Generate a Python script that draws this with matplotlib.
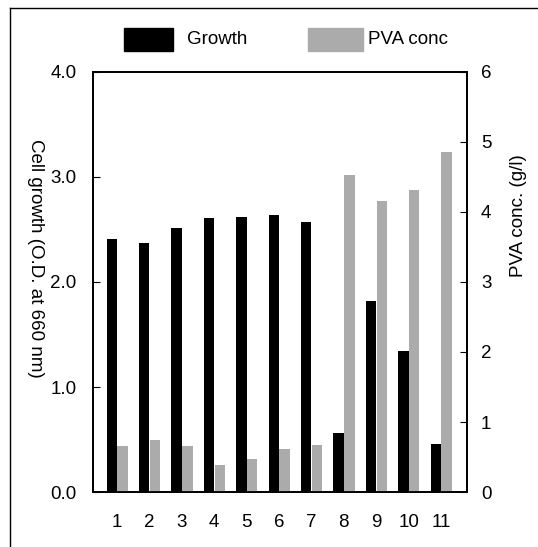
import matplotlib.pyplot as plt
import matplotlib.patches as mpatches
import numpy as np

plt.rcParams['font.family'] = ['Liberation Sans', 'DejaVu Sans']

samples = ['1', '2', '3', '4', '5', '6', '7', '8', '9', '10', '11']
growth = [2.41, 2.37, 2.51, 2.61, 2.62, 2.64, 2.57, 0.56, 1.82, 1.34, 0.46]
pva = [0.66, 0.75, 0.66, 0.39, 0.47, 0.61, 0.67, 4.53, 4.15, 4.31, 4.85]

x = np.arange(1, len(samples) + 1)
w = 0.32
gray = '#ababab'
fs = 13.5
W, H = 538, 547

fig = plt.figure(figsize=(5.38, 5.47), dpi=100)
ax = fig.add_axes([0.173, 0.1005, 0.695, 0.768])
ax2 = ax.twinx()

ax.bar(x - w / 2, growth, width=w, color='black')
ax2.bar(x + w / 2 + 0.01, pva, width=w, color=gray)

ax.set_xlim(0.26, 11.8)
ax.set_ylim(0, 4.0)
ax2.set_ylim(0, 6)
ax.set_yticks([0, 1, 2, 3, 4])
ax.set_yticklabels(['0.0', '1.0', '2.0', '3.0', '4.0'])
ax2.set_yticks(range(7))
ax.set_xticks(x)
ax.set_xticklabels(samples)

ax.tick_params(axis='y', direction='in', length=5, pad=12, labelsize=fs)
ax2.tick_params(axis='y', direction='in', length=5, pad=10, labelsize=fs)
ax.tick_params(axis='x', length=0, pad=16, labelsize=fs)

for a in (ax, ax2):
    for s in a.spines.values():
        s.set_linewidth(1.3)

ax.set_ylabel('Cell growth (O.D. at 660 nm)', rotation=270, fontsize=fs, va='center')
ax.yaxis.set_label_coords(-0.155, 0.557)
ax2.set_ylabel('PVA conc. (g/l)', rotation=90, fontsize=fs, va='center')
ax2.yaxis.set_label_coords(1.139, 0.657)

# legend drawn by hand, at the top of the figure
fig.add_artist(mpatches.Rectangle((124 / W, 1 - 51 / H), 49 / W, 23 / H,
                                  color='black', transform=fig.transFigure))
fig.text(187 / W, 1 - 39 / H, 'Growth', fontsize=fs, va='center')
fig.add_artist(mpatches.Rectangle((308 / W, 1 - 51 / H), 55 / W, 23 / H,
                                  color=gray, transform=fig.transFigure))
fig.text(368 / W, 1 - 39 / H, 'PVA conc', fontsize=fs, va='center')

# outer frame around the whole figure
fig.add_artist(plt.Line2D([10 / W, 10 / W], [0, 1 - 8 / H], color='black', lw=1.0))
fig.add_artist(plt.Line2D([10 / W, 1], [1 - 8 / H, 1 - 8 / H], color='black', lw=1.0))

fig.savefig('out.png', dpi=100)
